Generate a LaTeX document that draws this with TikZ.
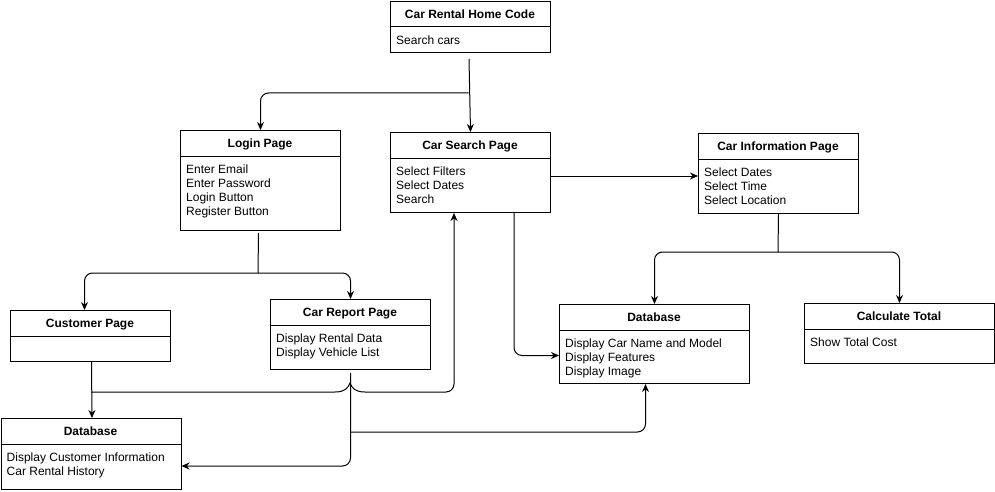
\documentclass[tikz,border=0pt]{standalone}
\usepackage{fontspec}
\setmainfont{Liberation Sans}
\usetikzlibrary{calc,arrows.meta}
\tikzset{
  box/.style={draw, line width=1pt, inner sep=0pt, fill=white},
  ttl/.style={font=\fontsize{12}{14}\selectfont\bfseries, anchor=base, inner sep=0pt},
  itm/.style={font=\fontsize{12}{14}\selectfont, anchor=base west, inner sep=0pt},
  ln/.style={line width=1pt},
  arr/.style={line width=1pt, -{Stealth[length=8pt,width=7pt]}},
  rc/.style={rounded corners=8pt}
}
\newcommand\umlbox[6]{% name, left, top, width, height, title
  \node[box, minimum width=#4pt, minimum height=#5pt, anchor=north west] (#1) at (#2,#3) {};
  \draw[ln] (#2,#3+26) -- (#2+#4,#3+26);
  \node[ttl] (#1-t) at (#2+#4/2,#3+17.3) {#6};
}
\newcommand\umlitems[4]{% name, left, top, items
  \foreach \t [count=\i] in {#4}
    \node[itm] (#1-\i) at (#2+6,#3+26+17.3+14*\i-14) {\t};
}
\begin{document}
\begin{tikzpicture}[x=1pt,y=-1pt]
\useasboundingbox (0,0) rectangle (995,492);
\fill[white] (0,0) rectangle (995,492);

\umlbox{home}{390}{1}{160}{51}{Car Rental Home Code}
\umlitems{home}{390}{1}{Search cars}

\umlbox{login}{180}{130}{160}{100}{Login Page}
\umlitems{login}{180}{130}{Enter Email,Enter Password,Login Button,Register Button}

\umlbox{csearch}{390}{132}{160}{80}{Car Search Page}
\umlitems{csearch}{390}{132}{Select Filters,Select Dates,Search}

\umlbox{cinfo}{698}{133}{160}{80}{Car Information Page}
\umlitems{cinfo}{698}{133}{Select Dates,Select Time,Select Location}

\umlbox{customer}{10}{310}{160}{51}{Customer Page}

\umlbox{report}{270}{299}{160}{70}{Car Report Page}
\umlitems{report}{270}{299}{Display Rental Data,Display Vehicle List}

\umlbox{dbm}{559}{304}{190}{79}{Database}
\umlitems{dbm}{559}{304}{Display Car Name and Model,Display Features,Display Image}

\umlbox{calc}{804}{303}{190}{60}{Calculate Total}
\umlitems{calc}{804}{303}{Show Total Cost}

\umlbox{dbl}{0.5}{418}{180}{71}{Database}
\umlitems{dbl}{0.5}{418}{Display Customer Information,Car Rental History}

% connectors
\coordinate (hs) at ($(home.south)+(-1.5,6)$);
\coordinate (j1) at (468.7,93);
\draw[arr] (hs) -- (csearch.north);
\draw[arr,rc] (j1) -| (login.north);

\coordinate (ls) at ($(login.south)+(-2,2)$);
\coordinate (j2) at (258,273);
\draw[ln] (ls) -- (j2);
\draw[arr,rc] (j2) -| ($(customer.north)+(-6,0)$);
\draw[arr,rc] (j2) -| (report.north);

\draw[arr] ($(customer.south)+(1,0)$) -- ($(dbl.north)+(1,0)$);
\coordinate (j3) at (91,392);
\coordinate (h1) at (335,392);
\coordinate (h2) at (365,392);
\draw[ln] (j3) -- (h1) .. controls (345,392) and (348,388) .. (350,383)
      .. controls (352,388) and (355,392) .. (h2);
\draw[arr,rc] (h2) -| ($(csearch.south west)+(64,0)$);

\coordinate (rs) at ($(report.south)+(0,3)$);
\draw[arr,rc] (rs) |- ($(dbl.south east)+(0,-24)$);
\coordinate (j4) at (350,432);
\draw[arr,rc] (j4) -| ($(dbm.south)+(-9,0)$);

\draw[arr,rc] ($(csearch.south west)+(124,0)$) |- ($(dbm.west)+(0,11.5)$);

\coordinate (fy) at (0,176);
\draw[arr] (csearch.east |- fy) -- (cinfo.west |- fy);

\coordinate (j5) at (778,252);
\draw[ln] (cinfo.south) -- (j5);
\draw[arr,rc] (j5) -| (dbm.north);
\draw[arr,rc] (j5) -| (calc.north);
\end{tikzpicture}
\end{document}
